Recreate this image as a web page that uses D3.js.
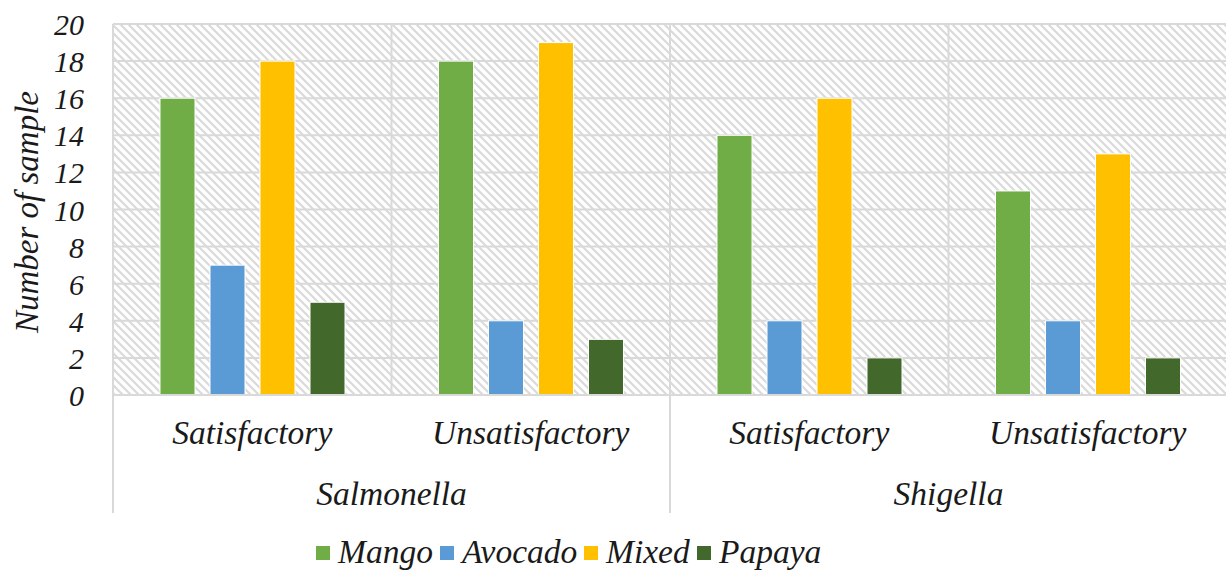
<meta charset="utf-8">
<style>
  body { margin: 0; background: #fff; }
</style>
<script src="https://cdn.jsdelivr.net/npm/d3@7"></script>
<svg id="chart" width="1226" height="571"></svg>
<script>
  var groups = ["Salmonella", "Shigella"];
  var subCats = ["Satisfactory", "Unsatisfactory"];
  var series = ["Mango", "Avocado", "Mixed", "Papaya"];
  var colors = ["#70ad47", "#5b9bd5", "#ffc000", "#43682b"];
  // values per series, in order: Sal-Sat, Sal-Unsat, Shi-Sat, Shi-Unsat
  var mango   = [16, 18, 14, 11];
  var avocado = [7, 4, 4, 4];
  var mixed   = [18, 19, 16, 13];
  var papaya  = [5, 3, 2, 2];
  var yTicks = [0, 2, 4, 6, 8, 10, 12, 14, 16, 18, 20];

  var values = [mango, avocado, mixed, papaya];
  var cats = [];
  groups.forEach(function(g) { subCats.forEach(function(s) { cats.push(g + "|" + s); }); });

  var plotL = 113, plotR = 1227, plotT = 24, plotB = 395;
  var gridColor = "#d9d9d9";
  var svg = d3.select("#chart");

  var defs = svg.append("defs");
  var pat = defs.append("pattern").attr("id", "hatch")
    .attr("patternUnits", "userSpaceOnUse").attr("width", 8).attr("height", 8);
  pat.append("rect").attr("width", 8).attr("height", 8).attr("fill", "#fff");
  pat.append("path").attr("d", "M-2,-2 L10,10 M-2,6 L2,10 M6,-2 L10,2")
    .attr("stroke", "#dadada").attr("stroke-width", 2.2);

  var x = d3.scaleBand().domain(cats).range([plotL, plotR]);
  var xi = d3.scaleBand().domain(series).range([47, 232]).paddingInner(0.3).paddingOuter(0);
  var y = d3.scaleLinear().domain([0, 20]).range([plotB, plotT]);

  // plot background
  svg.append("rect").attr("x", plotL).attr("y", plotT)
    .attr("width", plotR - plotL).attr("height", plotB - plotT)
    .attr("fill", "url(#hatch)");

  // gridlines
  var grid = svg.append("g").attr("stroke", gridColor).attr("stroke-width", 2);
  grid.selectAll("line.h").data(yTicks).enter().append("line")
    .attr("x1", plotL).attr("x2", plotR)
    .attr("y1", function(d) { return y(d); }).attr("y2", function(d) { return y(d); });
  grid.selectAll("line.v").data(cats).enter().append("line")
    .attr("x1", function(d) { return x(d); }).attr("x2", function(d) { return x(d); })
    .attr("y1", plotT).attr("y2", plotB);

  // bars
  series.forEach(function(s, i) {
    svg.append("g").selectAll("rect").data(values[i]).enter().append("rect")
      .attr("x", function(d, j) { return x(cats[j]) + xi(s); })
      .attr("y", function(d) { return y(d); })
      .attr("width", xi.bandwidth())
      .attr("height", function(d) { return plotB - y(d); })
      .attr("fill", colors[i])
      .attr("stroke", "#fff").attr("stroke-width", 1);
  });

  // y axis labels
  var yAxis = d3.axisLeft(y).tickValues(yTicks).tickSize(0).tickPadding(0);
  var ya = svg.append("g").attr("transform", "translate(84,0)").call(yAxis);
  ya.select(".domain").remove();
  ya.attr("font-family", null).attr("font-size", null);
  ya.selectAll("text").attr("dy", "0.35em").attr("font-size", 30);

  svg.append("text").attr("transform", "translate(38,212) rotate(-90)")
    .attr("text-anchor", "middle").attr("font-size", 33).text("Number of sample");

  // category axis
  var bx = svg.append("g");
  bx.append("line").attr("x1", plotL).attr("x2", plotR).attr("y1", plotB).attr("y2", plotB)
    .attr("stroke", gridColor).attr("stroke-width", 2);
  bx.selectAll("text.sub").data(cats).enter().append("text")
    .attr("x", function(d) { return x(d) + x.bandwidth() / 2; })
    .attr("y", 444).attr("text-anchor", "middle").attr("font-size", 33.5)
    .text(function(d) { return d.split("|")[1]; });
  bx.selectAll("text.grp").data(groups).enter().append("text")
    .attr("x", function(g) { return x(g + "|" + subCats[0]) + x.bandwidth(); })
    .attr("y", 505).attr("text-anchor", "middle").attr("font-size", 33.5)
    .text(function(g) { return g; });
  bx.selectAll("line.sep").data([cats[0], cats[2]]).enter().append("line")
    .attr("x1", function(d) { return x(d); }).attr("x2", function(d) { return x(d); })
    .attr("y1", plotB).attr("y2", 513)
    .attr("stroke", gridColor).attr("stroke-width", 2);

  // legend
  var legX = [316, 440, 584, 697];
  var leg = svg.append("g").selectAll("g").data(series).enter().append("g")
    .attr("transform", function(d, i) { return "translate(" + legX[i] + ",546)"; });
  leg.append("rect").attr("width", 14).attr("height", 14)
    .attr("fill", function(d, i) { return colors[i]; });
  leg.append("text").attr("x", 22).attr("y", 17).attr("font-size", 33.5)
    .text(function(d) { return d; });

  // same font on every text element
  svg.selectAll("text")
    .attr("font-family", "Liberation Serif")
    .attr("font-style", "italic")
    .attr("fill", "#1a1a1a")
    .style("font-family", "'Liberation Serif', serif", "important")
    .style("font-style", "italic", "important");
</script>
